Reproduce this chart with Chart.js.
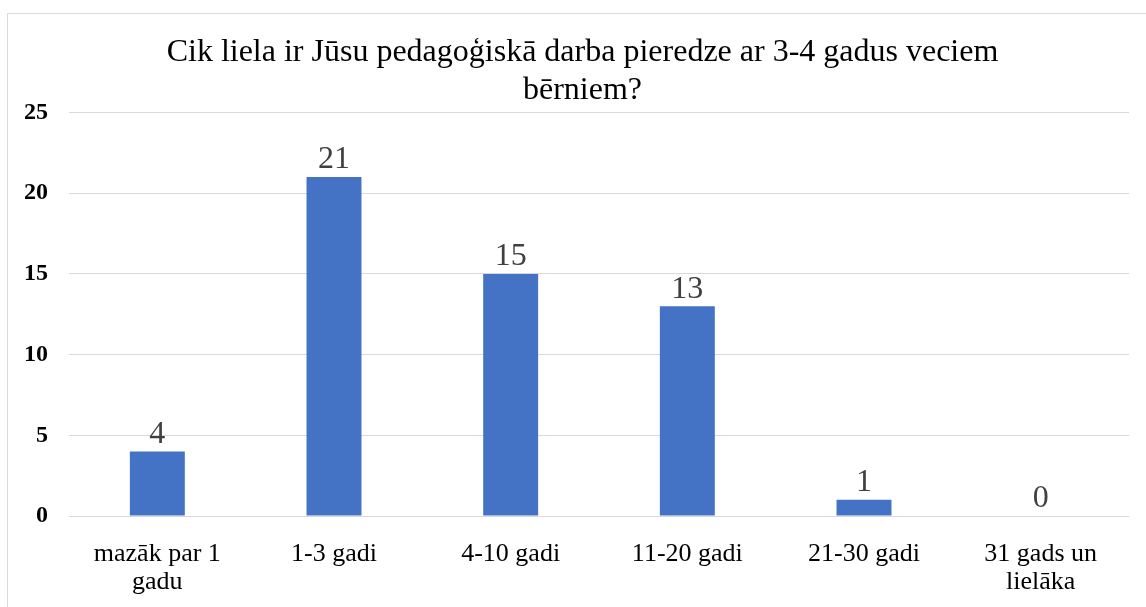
<!DOCTYPE html>
<html lang="lv">
<head>
    <meta charset="UTF-8">
    <title>Pedagoģiskā darba pieredze</title>
    <style>
        body {
            margin: 0;
            background: #ffffff;
            overflow: hidden;
        }
        #box {
            position: absolute;
            left: 7px;
            top: 13px;
            width: 1149px;
            height: 600px;
            border: 1px solid #d9d9d9;
            background: #ffffff;
        }
    </style>
    <script src="https://cdn.jsdelivr.net/npm/chart.js"></script>
</head>
<body>

    <div id="box">
        <canvas id="experienceChart" width="1149" height="600"></canvas>
    </div>

    <script>
        const titleLines = ['Cik liela ir Jūsu pedagoģiskā darba pieredze ar 3-4 gadus veciem', 'bērniem?'];
        const categories = [
            ['mazāk par 1', 'gadu'],
            '1-3 gadi',
            '4-10 gadi',
            '11-20 gadi',
            '21-30 gadi',
            ['31 gads un', 'lielāka']
        ];
        const counts = [4, 21, 15, 13, 1, 0];
        const yTicks = [0, 5, 10, 15, 20, 25];

        const serif = '"Liberation Serif", "Times New Roman", serif';

        // value labels above the bars, placed from the bar elements
        const barLabels = {
            id: 'barLabels',
            afterDatasetsDraw(chart) {
                const ctx = chart.ctx;
                const meta = chart.getDatasetMeta(0);
                ctx.save();
                ctx.font = '32px ' + serif;
                ctx.fillStyle = '#404040';
                ctx.textAlign = 'center';
                ctx.textBaseline = 'bottom';
                meta.data.forEach((bar, i) => {
                    ctx.fillText(String(counts[i]), bar.x, bar.y - 1);
                });
                ctx.restore();
            }
        };

        const ctx = document.getElementById('experienceChart').getContext('2d');
        new Chart(ctx, {
            type: 'bar',
            data: {
                labels: categories,
                datasets: [{
                    data: counts,
                    backgroundColor: '#4472c4',
                    borderWidth: 0,
                    categoryPercentage: 1,
                    barPercentage: 0.311
                }]
            },
            options: {
                responsive: false,
                animation: false,
                layout: {
                    padding: 0
                },
                plugins: {
                    legend: { display: false },
                    tooltip: { enabled: false },
                    title: {
                        display: true,
                        text: titleLines,
                        color: '#000000',
                        font: { family: serif, size: 32, weight: 'normal', lineHeight: 1.18 },
                        padding: { top: 20, bottom: 3 }
                    }
                },
                scales: {
                    x: {
                        grid: { display: false, drawTicks: false },
                        border: { display: false },
                        ticks: {
                            color: '#000000',
                            font: { family: serif, size: 26, lineHeight: 1.07 },
                            padding: 24,
                            maxRotation: 0,
                            autoSkip: false
                        },
                        afterFit(scale) { scale.height = 98; }
                    },
                    y: {
                        min: 0,
                        max: 25,
                        afterBuildTicks(scale) {
                            scale.ticks = yTicks.map(v => ({ value: v }));
                        },
                        grid: { color: '#d9d9d9', lineWidth: 1, drawTicks: false },
                        border: { display: false },
                        ticks: {
                            color: '#000000',
                            font: { family: serif, size: 24, weight: 'bold' },
                            padding: 21
                        },
                        afterFit(scale) { scale.width = 61; }
                    },
                    // empty right-hand strip, keeps the plot off the right edge
                    yRight: {
                        type: 'linear',
                        position: 'right',
                        min: 0,
                        max: 25,
                        grid: { display: false, drawTicks: false },
                        border: { display: false },
                        ticks: { display: false },
                        afterFit(scale) { scale.width = 28; }
                    }
                }
            },
            plugins: [barLabels]
        });
    </script>

</body>
</html>
